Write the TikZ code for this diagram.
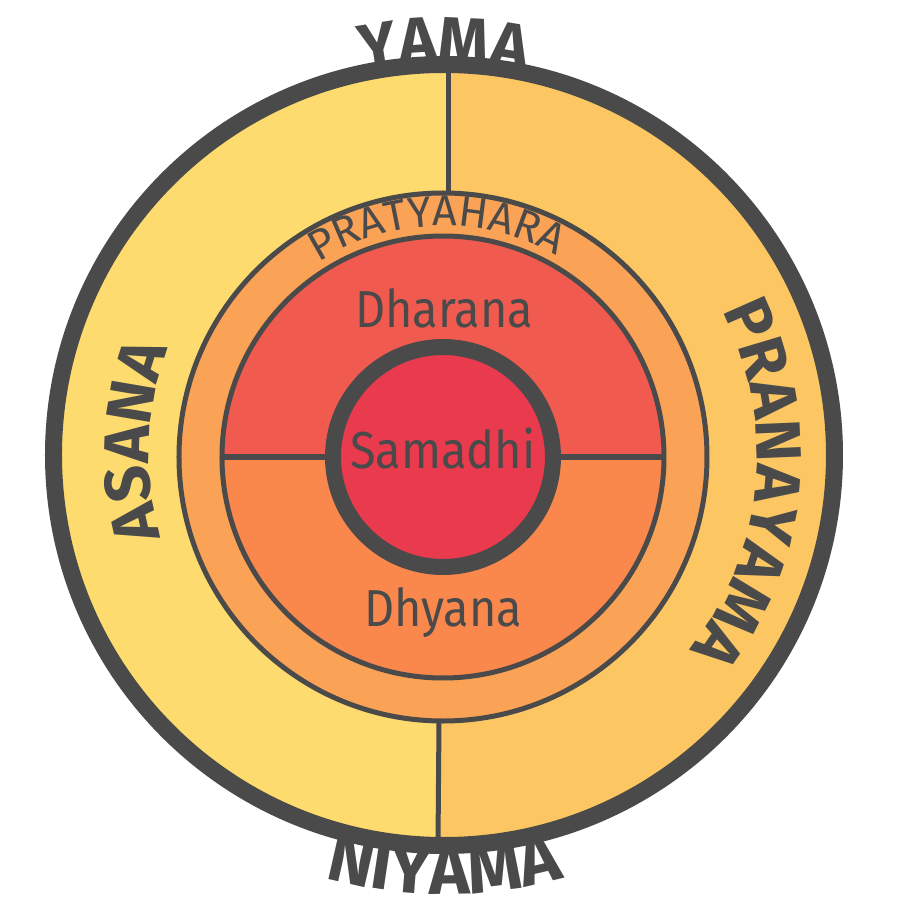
\documentclass[tikz,border=0pt]{standalone}
\usepackage{fontspec}
\setmainfont{Fira Sans}[FakeStretch=0.9]
\newfontfamily\wordfam{Fira Sans}
\usetikzlibrary{decorations.text}

\definecolor{ink}{HTML}{4A4A4A}
\definecolor{asana}{HTML}{FDDB6E}
\definecolor{prana}{HTML}{FCC762}
\definecolor{pratya}{HTML}{FAA255}
\definecolor{dharana}{HTML}{F15B4F}
\definecolor{dhyana}{HTML}{FA874C}
\definecolor{samadhi}{HTML}{E93A4E}

\newcommand{\outerfont}{\wordfam\fontsize{64}{64}\selectfont\bfseries}
\newcommand{\lowfont}{\wordfam\fontsize{69}{69}\selectfont\bfseries}
\newcommand{\ringfont}{\wordfam\fontsize{43}{43}\selectfont}
\newcommand{\innerfont}{\fontsize{52}{52}\selectfont}

\begin{document}
\begin{tikzpicture}[x=1pt, y=1pt, thin line/.style = {draw=ink, line width=5pt}, word/.style = {text=ink, font=\innerfont, inner sep=0pt, anchor=base}, arctext/.style = {decorate, decoration={text along path, text align=center, text color=ink, text={#1}}}]
	\useasboundingbox (-444,-445) rectangle (456,455);
	\coordinate (c) at (-1,-2);
	\coordinate (t1) at (5,390);
	\coordinate (t2) at (5,262);
	\coordinate (b1) at (-5,-266);
	\coordinate (b2) at (-6,-390);
	\fill[prana] (0,0) circle (391);
	\begin{scope}
		\clip (0,0) circle (391);
		\fill[asana] (t1) -- (b2) -- (-5,-400) -- (-400,-400) -- (-400,400) -- (5,400) -- cycle;
	\end{scope}
	\draw[thin line] (t1) -- (t2);
	\draw[thin line] (b1) -- (b2);
	\draw[thin line, fill=pratya] (c) circle (264);
	\fill[dhyana] (c) circle (221);
	\fill[dharana] (-222,-2) arc[start angle=180, end angle=0, radius=221] -- cycle;
	\draw[draw=ink, line width=6pt] (-222,-2) -- (220,-2);
	\draw[thin line] (c) circle (221);
	\draw[draw=ink, fill=samadhi, line width=16pt] (c) circle (110);
	\draw[draw=ink, line width=17pt] (0,0) circle (390.5);
	\node[word] (dharana) at (0,127) {Dharana};
	\node[word] (samadhi) at (-1,-13) {Samadhi};
	\node[word] (dhyana) at (-1,-171) {Dhyana};
	\path[arctext={|\outerfont|YAMA}] (135:393) arc[start angle=135, end angle=45, radius=393];
	\path[arctext={|\lowfont|NIYAMA}] (225:439) arc[start angle=225, end angle=315, radius=439];
	\path[arctext={|\outerfont|ASANA}] (222.5:295) arc[start angle=222.5, end angle=132.5, radius=295];
	\path[arctext={|\outerfont|PRANAYAMA}] (54.5:313) arc[start angle=54.5, end angle=-65.5, radius=313];
	\path[shift={(c)}, arctext={|\ringfont|PRATYAHARA}] (141.6:231) arc[start angle=141.6, end angle=41.6, radius=231];
\end{tikzpicture}
\end{document}
